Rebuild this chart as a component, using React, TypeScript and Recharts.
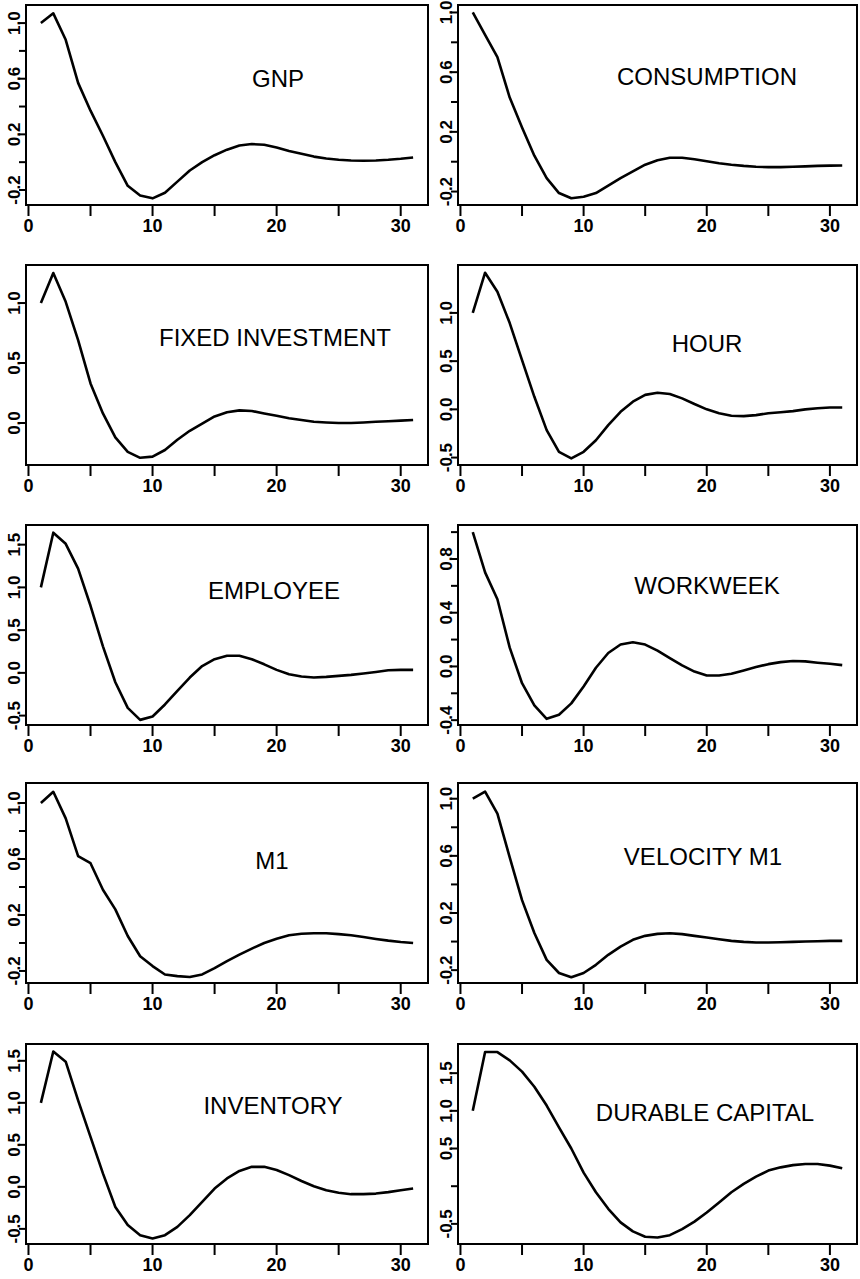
import React from "react";
import { LineChart, Line, XAxis, YAxis, ReferenceArea } from "recharts";

// impulse responses, lags 1..31
const lags = [
  1, 2, 3, 4, 5, 6, 7, 8, 9, 10, 11, 12, 13, 14, 15, 16, 17, 18, 19, 20, 21, 22, 23, 24, 25, 26,
  27, 28, 29, 30, 31,
];

const gnp = [
  1.0, 1.07, 0.88, 0.57, 0.37, 0.19, 0.0, -0.17, -0.24, -0.26, -0.22, -0.14, -0.06, 0.0, 0.05,
  0.09, 0.12, 0.13, 0.125, 0.105, 0.08, 0.06, 0.04, 0.026, 0.017, 0.012, 0.01, 0.012, 0.017,
  0.024, 0.033,
];
const consumption = [
  1.0, 0.85, 0.7, 0.43, 0.23, 0.04, -0.11, -0.21, -0.245, -0.235, -0.21, -0.16, -0.11, -0.065,
  -0.02, 0.01, 0.027, 0.027, 0.016, 0.003, -0.01, -0.02, -0.028, -0.034, -0.036, -0.036, -0.034,
  -0.031, -0.028, -0.026, -0.025,
];
const fixedInvestment = [
  1.0, 1.25, 1.01, 0.69, 0.33, 0.08, -0.12, -0.24, -0.29, -0.28, -0.225, -0.14, -0.065, -0.005,
  0.055, 0.09, 0.105, 0.1, 0.08, 0.06, 0.04, 0.025, 0.01, 0.004, 0.0, 0.0, 0.004, 0.01, 0.015,
  0.02, 0.025,
];
const hour = [
  1.0, 1.417, 1.22, 0.895, 0.51, 0.13, -0.215, -0.44, -0.508, -0.44, -0.32, -0.163, -0.025, 0.08,
  0.15, 0.172, 0.16, 0.114, 0.055, 0.0, -0.04, -0.066, -0.07, -0.06, -0.04, -0.03, -0.018, 0.0,
  0.012, 0.02, 0.02,
];
const employee = [
  1.0, 1.64, 1.51, 1.22, 0.785, 0.31, -0.11, -0.41, -0.55, -0.51, -0.37, -0.21, -0.055, 0.08,
  0.16, 0.2, 0.2, 0.16, 0.1, 0.035, -0.016, -0.043, -0.055, -0.047, -0.035, -0.024, -0.008, 0.01,
  0.03, 0.035, 0.035,
];
const workweek = [
  1.0, 0.7, 0.5, 0.14, -0.125, -0.29, -0.39, -0.36, -0.275, -0.15, -0.01, 0.1, 0.163, 0.18, 0.163,
  0.118, 0.062, 0.008, -0.038, -0.068, -0.068, -0.055, -0.03, -0.005, 0.017, 0.032, 0.04, 0.038,
  0.028, 0.02, 0.01,
];
const m1 = [
  1.0, 1.08, 0.89, 0.62, 0.57, 0.38, 0.24, 0.05, -0.095, -0.165, -0.225, -0.237, -0.243, -0.225,
  -0.18, -0.13, -0.083, -0.04, 0.0, 0.03, 0.055, 0.066, 0.07, 0.07, 0.063, 0.055, 0.043, 0.029,
  0.017, 0.007, 0.0,
];
const velocityM1 = [
  1.0, 1.05, 0.895, 0.59, 0.29, 0.06, -0.128, -0.22, -0.25, -0.22, -0.163, -0.093, -0.035, 0.012,
  0.04, 0.054, 0.058, 0.052, 0.04, 0.028, 0.016, 0.005, -0.002, -0.007, -0.007, -0.005, -0.002,
  0.0, 0.002, 0.005, 0.005,
];
const inventory = [
  1.0, 1.61, 1.49, 1.03, 0.595, 0.16, -0.24, -0.455, -0.575, -0.615, -0.575, -0.476, -0.337, -0.18,
  -0.02, 0.1, 0.19, 0.238, 0.238, 0.2, 0.14, 0.07, 0.008, -0.04, -0.07, -0.087, -0.087, -0.08,
  -0.063, -0.04, -0.02,
];
const durableCapital = [
  1.0, 1.78, 1.78, 1.67, 1.52, 1.32, 1.07, 0.78, 0.5, 0.18, -0.08, -0.3, -0.48, -0.6, -0.67, -0.68,
  -0.65, -0.57, -0.47, -0.35, -0.215, -0.08, 0.03, 0.126, 0.207, 0.25, 0.28, 0.295, 0.295, 0.273,
  0.237,
];

const titles = [
  "GNP",
  "CONSUMPTION",
  "FIXED INVESTMENT",
  "HOUR",
  "EMPLOYEE",
  "WORKWEEK",
  "M1",
  "VELOCITY M1",
  "INVENTORY",
  "DURABLE CAPITAL",
];
const series = [
  gnp,
  consumption,
  fixedInvestment,
  hour,
  employee,
  workweek,
  m1,
  velocityM1,
  inventory,
  durableCapital,
];

const ticksSmall = [-0.2, 0, 0.2, 0.4, 0.6, 0.8, 1.0];
const labelsSmall = [-0.2, 0.2, 0.6, 1.0];
const ticksHalf = [-0.5, 0, 0.5, 1.0, 1.5];

const yTicks = [
  ticksSmall,
  ticksSmall,
  [0, 0.5, 1.0],
  [-0.5, 0, 0.5, 1.0],
  ticksHalf,
  [-0.4, -0.2, 0, 0.2, 0.4, 0.6, 0.8, 1.0],
  ticksSmall,
  ticksSmall,
  ticksHalf,
  ticksHalf,
];
const yLabels = [
  labelsSmall,
  labelsSmall,
  [0, 0.5, 1.0],
  [-0.5, 0, 0.5, 1.0],
  ticksHalf,
  [-0.4, 0, 0.4, 0.8],
  labelsSmall,
  labelsSmall,
  ticksHalf,
  [-0.5, 0.5, 1.0, 1.5],
];
const yDomains: [number, number][] = [
  [-0.308, 1.13],
  [-0.29, 1.05],
  [-0.35, 1.317],
  [-0.577, 1.497],
  [-0.61, 1.73],
  [-0.436, 1.053],
  [-0.286, 1.143],
  [-0.29, 1.11],
  [-0.68, 1.7],
  [-0.767, 1.887],
];

const xTicks = [0, 5, 10, 15, 20, 25, 30];
const xLabels = ["0", "10", "20", "30"];
const X_DOMAIN: [number, number] = [-0.2, 32.2];

// layout
const W = 430;
const H = 260;
const rowTops = [0, 260, 520, 778, 1039];
const titleCenters = [
  [278, 78],
  [277, 76],
  [275, 77],
  [277, 83],
  [274, 70],
  [277, 65],
  [272, 82],
  [273, 78],
  [273, 66],
  [275, 73],
];
const FONT = "'Liberation Sans', Arial, Helvetica, sans-serif";

function XTick(props: any) {
  const { x, y, payload } = props;
  const label = String(Math.round(Number(payload?.value ?? 0)));
  if (!xLabels.includes(label)) return <g />;
  return (
    <text x={x} y={y + 13} textAnchor="middle" fontFamily={FONT} fontSize={18} fontWeight="bold" fill="#000">
      {label}
    </text>
  );
}

function makeYTick(labels: number[]) {
  return (props: any) => {
    const { x, y, payload } = props;
    const v = Number(payload?.value ?? 0);
    if (!labels.some((l) => Math.abs(l - v) < 1e-9)) return <g />;
    const bx = x + 1;
    return (
      <text
        x={bx}
        y={y}
        transform={`rotate(-90 ${bx} ${y})`}
        textAnchor="middle"
        fontFamily={FONT}
        fontSize={17}
        fontWeight="bold"
        fill="#000"
      >
        {v.toFixed(1)}
      </text>
    );
  };
}

function Panel({ idx }: { idx: number }) {
  const col = idx % 2;
  const row = Math.floor(idx / 2);
  const values = series[idx];
  const data = lags.map((t, i) => ({ t, v: values[i] }));
  const domain = yDomains[idx];
  const axisW = col === 0 ? 26 : 28;
  const right = col === 0 ? 2 : 3;
  const [tx, ty] = titleCenters[idx];

  return (
    <div style={{ position: "absolute", left: col * W, top: rowTops[row] }}>
      <LineChart width={W} height={H} data={data} margin={{ top: 5, right, bottom: 5, left: 0 }}>
        <XAxis
          dataKey="t"
          type="number"
          domain={X_DOMAIN}
          allowDataOverflow
          ticks={xTicks}
          interval={0}
          axisLine={false}
          stroke="#000"
          tickLine={{ stroke: "#000", strokeWidth: 2 }}
          tickSize={11}
          tickMargin={3}
          height={50}
          tick={XTick}
        />
        <YAxis
          type="number"
          domain={domain}
          allowDataOverflow
          ticks={yTicks[idx]}
          interval={0}
          width={axisW}
          axisLine={false}
          stroke="#000"
          tickLine={{ stroke: "#000", strokeWidth: 2 }}
          tickSize={7}
          tickMargin={0}
          tick={makeYTick(yLabels[idx])}
        />
        <ReferenceArea
          x1={X_DOMAIN[0]}
          x2={X_DOMAIN[1]}
          y1={domain[0]}
          y2={domain[1]}
          fill="none"
          stroke="#000"
          strokeWidth={2}
          ifOverflow="visible"
        />
        <Line
          dataKey="v"
          type="linear"
          stroke="#000"
          strokeWidth={2.6}
          strokeLinejoin="round"
          dot={false}
          isAnimationActive={false}
        />
        <text x={tx} y={ty + 8.5} textAnchor="middle" fontFamily={FONT} fontSize={24} fill="#000">
          {titles[idx]}
        </text>
      </LineChart>
    </div>
  );
}

export default function App() {
  return (
    <div style={{ position: "absolute", left: 0, top: 0, width: 860, height: 1279, background: "#fff" }}>
      {titles.map((_, i) => (
        <Panel key={i} idx={i} />
      ))}
    </div>
  );
}
